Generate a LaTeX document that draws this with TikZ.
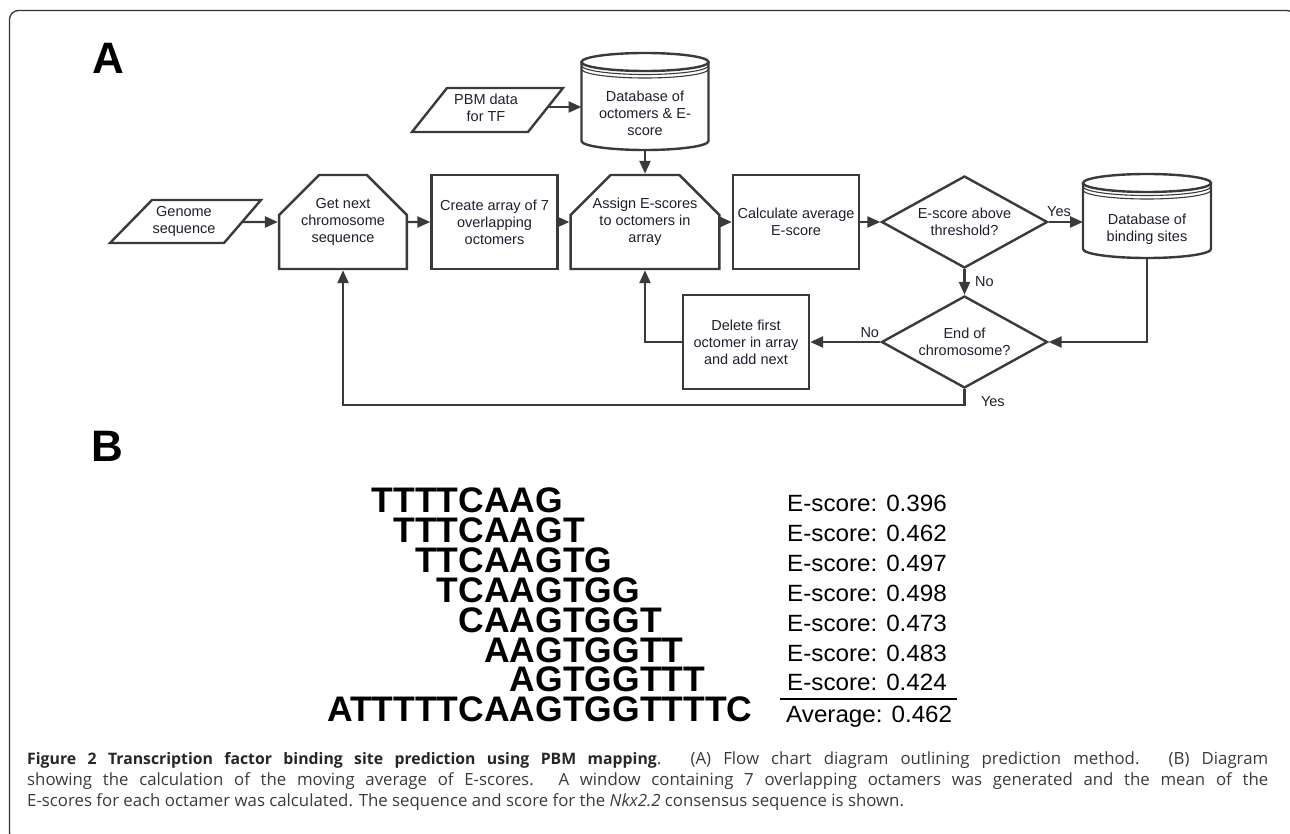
\documentclass[tikz,border=0pt]{standalone}
\usepackage{fontspec}
\usepackage{graphicx}
\setmainfont{Liberation Sans}
\newfontfamily\capfont{Open Sans}
\usetikzlibrary{arrows.meta,shapes.geometric,shapes.misc}
\definecolor{ln}{HTML}{3A3A3A}
\definecolor{tx}{HTML}{1E1E2E}
\definecolor{captc}{HTML}{3A3A3A}
\begin{document}
\begin{tikzpicture}[x=1pt,y=-1pt,
  flow/.style={draw=ln, line width=2.4pt, -{Triangle[length=13pt,width=11pt]}},
  plain/.style={draw=ln, line width=2.4pt},
  thinl/.style={draw=ln, line width=1.1pt},
  txt/.style={font=\fontsize{14.5}{17}\selectfont, text=tx, align=center},
  boxn/.style={txt, draw=ln, line width=2.4pt, rectangle, minimum width=126pt, minimum height=94pt, inner sep=0pt},
  chamf/.style={boxn, minimum width=122pt, chamfered rectangle, chamfered rectangle corners={north west,north east}, chamfered rectangle xsep=22pt, chamfered rectangle ysep=18pt},
  dec/.style={txt, draw=ln, line width=2.4pt, diamond, aspect=1.8, minimum width=166pt, minimum height=92pt, inner sep=0pt},
  lbl/.style={font=\fontsize{14.5}{17}\selectfont, text=tx},
  seq/.style={font=\fontsize{35.5}{36}\bfseries\selectfont, anchor=base west, inner sep=0pt},
  esc/.style={font=\fontsize{23.5}{24}\selectfont, anchor=base west, inner sep=0pt},
  big/.style={font=\fontsize{44}{44}\bfseries\selectfont, anchor=base west, inner sep=0pt},
  capt/.style={font=\capfont\fontsize{16.8}{20}\selectfont, text=captc, anchor=base west, inner sep=0pt},
]
\useasboundingbox (0,0) rectangle (1290,834);
\begin{scope}
\clip (0,0) rectangle (1290,834);
\draw[draw=black!80, line width=1.3pt, rounded corners=9pt] (9.5,10.5) rectangle (1296,842);
\end{scope}

% panel labels
\node[big] (labA) at (92,74) {A};
\node[big] (labB) at (91,461) {B};

% input parallelograms
\draw[plain] (110,243) -- (152,200) -- (261,200) -- (224,243) -- cycle;
\node[txt] (genome) at (184,221) {Genome\\sequence};
\coordinate (genomeR) at (242.5,222);
\draw[plain] (412,132) -- (447,88) -- (563,88) -- (528,132) -- cycle;
\node[txt] (pbm) at (486,108) {PBM data\\for TF};
\coordinate (pbmR) at (548,107);

% database of octomers (cylinder)
\draw[plain, fill=white] (581.5,62) -- (581.5,141) arc[start angle=180,end angle=360,x radius=63.5pt,y radius=9pt] -- (708.5,62);
\draw[plain] (645,62) ellipse [x radius=63.5pt, y radius=9pt];
\draw[thinl] (581.5,65.5) arc[start angle=180,end angle=360,x radius=63.5pt,y radius=9pt];
\draw[thinl] (581.5,69) arc[start angle=180,end angle=360,x radius=63.5pt,y radius=9pt];
\node[txt] (db1) at (645,113) {Database of\\octomers \& E-\\score};
\coordinate (db1L) at (581.5,107);
\coordinate (db1B) at (645,150);

% database of binding sites (cylinder)
\draw[plain, fill=white] (1083,183) -- (1083,249) arc[start angle=180,end angle=360,x radius=64pt,y radius=9pt] -- (1211,183);
\draw[plain] (1147,183) ellipse [x radius=64pt, y radius=9pt];
\draw[thinl] (1083,186.5) arc[start angle=180,end angle=360,x radius=64pt,y radius=9pt];
\draw[thinl] (1083,190) arc[start angle=180,end angle=360,x radius=64pt,y radius=9pt];
\node[txt] (db2) at (1147,229) {Database of\\binding sites};
\coordinate (db2L) at (1083,222);
\coordinate (db2B) at (1147,258);

% process nodes
\node[chamf] (getnext) at (343,222) {Get next\\chromosome\\sequence};
\node[boxn] (create) at (494.5,222) {Create array of 7\\overlapping\\octomers};
\node[chamf] (assign) at (645,222) {Assign E-scores\\to octomers in\\array};
\node[boxn] (calc) at (796,222) {Calculate average\\E-score};
\node[dec] (dec1) at (964.5,222) {E-score above\\threshold?};
\node[dec] (dec2) at (964.5,342) {End of\\chromosome?};
\node[boxn] (delete) at (746,342) {Delete first\\octomer in array\\and add next};
\coordinate (loopc) at (964.5,405);

% connectors
\draw[flow] (genomeR) -- (getnext);
\draw[flow] (getnext) -- (create);
\draw[flow] (create) -- (assign);
\draw[flow] (assign) -- (calc);
\draw[flow] (calc) -- (dec1);
\draw[flow] (pbmR) -- (db1L);
\draw[flow] (db1B) -- (assign);
\draw[flow] (dec1) -- (db2L) node[lbl, pos=0.3, above, yshift=1pt] {Yes};
\draw[flow] (dec1) -- (dec2) node[lbl, midway, right, xshift=6pt] {No};
\draw[flow] (db2B) |- (dec2);
\draw[flow] (dec2) -- (delete) node[lbl, pos=0.15, above] {No};
\draw[flow] (delete) -| (assign);
\draw[flow] (dec2) -- (loopc) node[lbl, pos=1, right, xshift=12pt, yshift=3pt] {Yes} -| (getnext);

% panel B sequences
\node[seq] (s1) at (327,512.5) {\phantom{AT}TTTTCAAG};
\node[seq] (s2) at (327,542.4) {\phantom{ATT}TTTCAAGT};
\node[seq] (s3) at (327,572.3) {\phantom{ATTT}TTCAAGTG};
\node[seq] (s4) at (327,602.2) {\phantom{ATTTT}TCAAGTGG};
\node[seq] (s5) at (327,632.1) {\phantom{ATTTTT}CAAGTGGT};
\node[seq] (s6) at (327,662) {\phantom{ATTTTTC}AAGTGGTT};
\node[seq] (s7) at (327,691.9) {\phantom{ATTTTTCA}AGTGGTTT};
\node[seq] (s8) at (327,721.8) {ATTTTTCAAGTGGTTTTC};

\node[esc] (e1) at (787,511.5) {\scalebox{1.03}[1]{E-score: 0.396}};
\node[esc] (e2) at (787,541.4) {\scalebox{1.03}[1]{E-score: 0.462}};
\node[esc] (e3) at (787,571.3) {\scalebox{1.03}[1]{E-score: 0.497}};
\node[esc] (e4) at (787,601.2) {\scalebox{1.03}[1]{E-score: 0.498}};
\node[esc] (e5) at (787,631.1) {\scalebox{1.03}[1]{E-score: 0.473}};
\node[esc] (e6) at (787,661) {\scalebox{1.03}[1]{E-score: 0.483}};
\node[esc] (e7) at (787,690.9) {\scalebox{1.03}[1]{E-score: 0.424}};
\node[esc] (avg) at (786,722.5) {\scalebox{1.03}[1]{Average: 0.462}};
\coordinate (ruleL) at (780,699);
\coordinate (ruleR) at (957,699);
\draw[black, line width=1.8pt] (ruleL) -- (ruleR);

% caption
\node[capt] (cap1) at (27,764) {\makebox[1241pt][s]{{\fontsize{15.8}{20}\selectfont\bfseries\color{black!85} Figure 2 Transcription factor binding site prediction using PBM mapping}. (A) Flow chart diagram outlining prediction method. (B) Diagram}};
\node[capt] (cap2) at (27,785) {\makebox[1241pt][s]{showing the calculation of the moving average of E-scores. A window containing 7 overlapping octamers was generated and the mean of the}};
\node[capt] (cap3) at (27,806) {E-scores for each octamer was calculated. The sequence and score for the \textit{Nkx2.2} consensus sequence is shown.};
\end{tikzpicture}
\end{document}
